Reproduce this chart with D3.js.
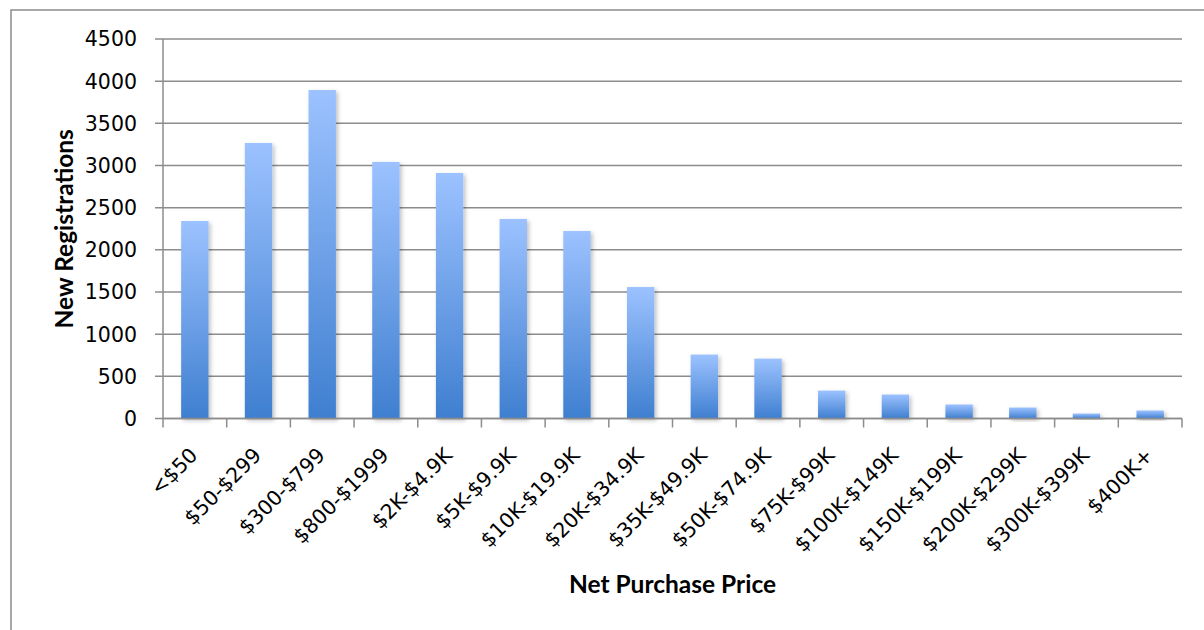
<!DOCTYPE html>
<html>
<head>
<meta charset="utf-8">
<script src="https://cdn.jsdelivr.net/npm/d3@7"></script>
<style>
  body { margin: 0; background: #fff; }
  svg { display: block; }
  .tick-label { font-family: "DejaVu Sans", sans-serif; font-size: 20.5px; fill: #000; }
  .axis-title { font-family: Lato, "Open Sans", sans-serif; font-weight: bold; font-size: 24.5px; fill: #000; }
</style>
</head>
<body>
<svg id="chart"></svg>
<script>
// price buckets and the number of new registrations in each
const categories = ["<$50", "$50-$299", "$300-$799", "$800-$1999", "$2K-$4.9K", "$5K-$9.9K",
    "$10K-$19.9K", "$20K-$34.9K", "$35K-$49.9K", "$50K-$74.9K", "$75K-$99K", "$100K-$149K",
    "$150K-$199K", "$200K-$299K", "$300K-$399K", "$400K+"];
const registrations = [2342, 3267, 3895, 3042, 2911, 2366, 2223, 1559, 758, 710, 331, 284, 166, 130, 59, 95];
const yTicks = [0, 500, 1000, 1500, 2000, 2500, 3000, 3500, 4000, 4500];

const width = 1204, height = 630;
const margin = {top: 39, right: 22, bottom: 211.5, left: 163};
const plotW = width - margin.left - margin.right;
const plotH = height - margin.top - margin.bottom;

const svg = d3.select("#chart")
    .attr("width", width)
    .attr("height", height);

// gradient + soft shadow for the bars
const defs = svg.append("defs");
const grad = defs.append("linearGradient")
    .attr("id", "barGrad")
    .attr("x1", 0).attr("y1", 0).attr("x2", 0).attr("y2", 1);
grad.append("stop").attr("offset", "0%").attr("stop-color", "#9cc2ff");
grad.append("stop").attr("offset", "100%").attr("stop-color", "#3f7fd0");

const shadow = defs.append("filter")
    .attr("id", "barShadow")
    .attr("x", "-30%").attr("y", "-30%").attr("width", "160%").attr("height", "160%");
shadow.append("feDropShadow")
    .attr("dx", 2).attr("dy", 2)
    .attr("stdDeviation", 2)
    .attr("flood-color", "#000")
    .attr("flood-opacity", 0.25);

// outer chart border (runs off the right and bottom edges)
svg.append("rect")
    .attr("x", 11).attr("y", 10)
    .attr("width", width + 20).attr("height", height + 20)
    .attr("fill", "none")
    .attr("stroke", "#8c8c8c")
    .attr("stroke-width", 1.5);

const g = svg.append("g")
    .attr("transform", `translate(${margin.left},${margin.top})`);

const x = d3.scaleBand()
    .domain(categories)
    .range([0, plotW])
    .paddingInner(0.57)
    .paddingOuter(0.285);

const y = d3.scaleLinear()
    .domain([0, 4500])
    .range([plotH, 0]);

// horizontal gridlines
g.append("g")
    .selectAll("line")
    .data(yTicks)
    .join("line")
    .attr("x1", -8).attr("x2", plotW)
    .attr("y1", d => y(d)).attr("y2", d => y(d))
    .attr("stroke", "#8c8c8c")
    .attr("stroke-width", 1.5);

// y tick labels
g.append("g")
    .selectAll("text")
    .data(yTicks)
    .join("text")
    .attr("class", "tick-label")
    .attr("x", -26)
    .attr("y", d => y(d))
    .attr("dy", "0.36em")
    .attr("text-anchor", "end")
    .text(d => d);

// y axis line
g.append("line")
    .attr("x1", 0).attr("x2", 0)
    .attr("y1", 0).attr("y2", plotH)
    .attr("stroke", "#8c8c8c")
    .attr("stroke-width", 1.5);

// bars
g.append("g")
    .selectAll("rect")
    .data(categories)
    .join("rect")
    .attr("x", d => x(d))
    .attr("y", (d, i) => y(registrations[i]))
    .attr("width", x.bandwidth())
    .attr("height", (d, i) => plotH - y(registrations[i]))
    .attr("fill", "url(#barGrad)")
    .attr("filter", "url(#barShadow)");

// x axis ticks at the category boundaries
const step = x.step();
const boundaries = categories.map(c => x(c) - (step - x.bandwidth()) / 2).concat([plotW]);
g.append("g")
    .selectAll("line")
    .data(boundaries)
    .join("line")
    .attr("x1", d => d).attr("x2", d => d)
    .attr("y1", plotH).attr("y2", plotH + 9)
    .attr("stroke", "#8c8c8c")
    .attr("stroke-width", 1.5);

g.append("line")
    .attr("x1", 0).attr("x2", plotW)
    .attr("y1", plotH).attr("y2", plotH)
    .attr("stroke", "#8c8c8c")
    .attr("stroke-width", 1.5);

// rotated category labels
g.append("g")
    .selectAll("text")
    .data(categories)
    .join("text")
    .attr("class", "tick-label")
    .attr("text-anchor", "end")
    .attr("transform", d => `translate(${x(d) + x.bandwidth() / 2 + 4},${plotH + 38}) rotate(-45)`)
    .text(d => d);

// axis titles
svg.append("text")
    .attr("class", "axis-title")
    .attr("x", margin.left + plotW / 2)
    .attr("y", 593)
    .attr("text-anchor", "middle")
    .text("Net Purchase Price");

svg.append("text")
    .attr("class", "axis-title")
    .attr("text-anchor", "middle")
    .attr("transform", `translate(73,${margin.top + plotH / 2}) rotate(-90)`)
    .text("New Registrations");
</script>
</body>
</html>
